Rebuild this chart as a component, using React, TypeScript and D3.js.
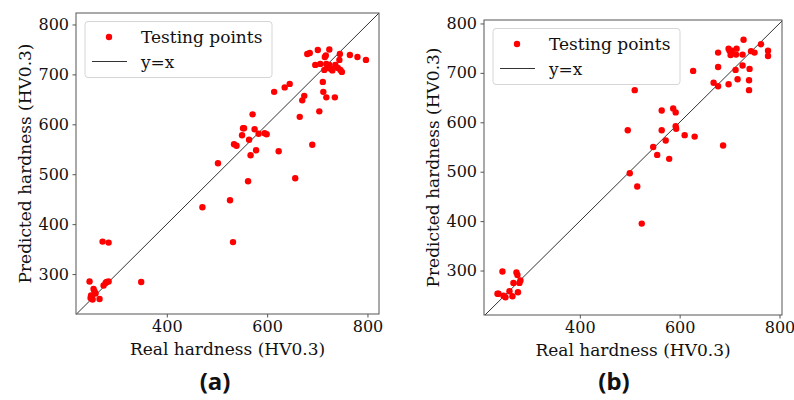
import { useRef, useEffect } from 'react'
import * as d3 from 'd3'

// (a) real vs predicted hardness, testing points
const realA = [
  680, 685, 701, 724, 717, 715, 745, 744, 765, 780, 797, 696, 706, 718, 724, 714, 721, 730, 736, 741,
  746, 749, 727, 711, 712, 718, 735, 704, 674, 670, 665, 690, 656, 614, 635, 645, 571, 552, 554, 575,
  550, 583, 595, 599, 564, 534, 539, 578, 567, 623, 502, 562, 471, 526, 532, 272, 284, 349, 246, 274,
  278, 280, 284, 254, 256, 258, 249, 251, 252, 248, 266,
]
const predA = [
  741, 743, 749, 750, 738, 735, 741, 729, 739, 735, 729, 719, 721, 721, 719, 709, 713, 708, 719, 713,
  709, 705, 711, 685, 665, 654, 654, 626, 657, 648, 615, 559, 492, 665, 674, 681, 620, 592, 592, 590,
  578, 581, 582, 580, 569, 560, 557, 548, 538, 546, 522, 486, 434, 448, 364, 365, 363, 284, 285, 277,
  282, 284, 285, 270, 265, 261, 257, 251, 249, 252, 250,
]

// (b)
const realB = [
  728, 763, 777, 777, 743, 750, 714, 698, 700, 705, 702, 713, 726, 677, 677, 726, 712, 740, 668, 677,
  698, 716, 739, 739, 627, 510, 564, 587, 592, 564, 592, 593, 496, 610, 630, 572, 547, 555, 579, 687,
  500, 515, 524, 245, 273, 275, 281, 279, 267, 259, 276, 265, 251, 247, 237, 235,
]
const predB = [
  767, 758, 745, 734, 744, 741, 749, 749, 745, 745, 736, 737, 737, 741, 712, 715, 706, 708, 680, 673,
  677, 687, 685, 665, 704, 665, 624, 628, 620, 584, 592, 587, 584, 574, 571, 563, 550, 534, 526, 553,
  497, 470, 395, 298, 296, 291, 280, 275, 275, 258, 256, 248, 246, 249, 253, 253,
]

const xTicks = [400, 600, 800]
const yTicks = [300, 400, 500, 600, 700, 800]

type Panel = {
  real: number[]
  pred: number[]
  left: number
  right: number
  top: number
  bottom: number
  xDomain: [number, number]
  yDomain: [number, number]
  caption: string
  captionX: number
}

const panels: Panel[] = [
  { real: realA, pred: predA, left: 76, right: 379, top: 13, bottom: 314, xDomain: [219, 823], yDomain: [220, 823], caption: '(a)', captionX: 215 },
  { real: realB, pred: predB, left: 484, right: 782, top: 20, bottom: 315, xDomain: [208, 805], yDomain: [210, 807], caption: '(b)', captionX: 614 },
]

const serif = '"DejaVu Serif", serif'

export default function App() {
  const svgRef = useRef<SVGSVGElement>(null)

  useEffect(() => {
    if (!svgRef.current) return
    const svg = d3.select(svgRef.current)
    svg.selectAll('*').remove()

    for (const p of panels) {
      const x = d3.scaleLinear().domain(p.xDomain).range([p.left, p.right])
      const y = d3.scaleLinear().domain(p.yDomain).range([p.bottom, p.top])
      const g = svg.append('g')

      // y = x diagonal, clipped to the frame
      const lo = Math.max(p.xDomain[0], p.yDomain[0])
      const hi = Math.min(p.xDomain[1], p.yDomain[1])
      g.append('line')
        .attr('x1', x(lo)).attr('y1', y(lo))
        .attr('x2', x(hi)).attr('y2', y(hi))
        .attr('stroke', '#333').attr('stroke-width', 1)

      // points
      g.selectAll('.pt')
        .data(p.real.map((r, i) => [r, p.pred[i]]))
        .join('circle')
        .attr('cx', (d) => x(d[0]))
        .attr('cy', (d) => y(d[1]))
        .attr('r', 3.2)
        .attr('fill', '#ff0000')

      // frame
      g.append('rect')
        .attr('x', p.left).attr('y', p.top)
        .attr('width', p.right - p.left).attr('height', p.bottom - p.top)
        .attr('fill', 'none').attr('stroke', '#555').attr('stroke-width', 1)

      // axes
      const ax = g.append('g')
        .attr('transform', `translate(0,${p.bottom})`)
        .call(d3.axisBottom(x).tickValues(xTicks).tickSize(3.5).tickPadding(3.5))
      const ay = g.append('g')
        .attr('transform', `translate(${p.left},0)`)
        .call(d3.axisLeft(y).tickValues(yTicks).tickSize(3.5).tickPadding(3.5))
      for (const a of [ax, ay]) {
        a.select('.domain').remove()
        a.selectAll('.tick line').attr('stroke', '#555')
        a.selectAll('text')
          .attr('fill', '#111')
          .style('font-family', serif)
          .style('font-size', '16px')
      }

      // axis titles
      const cx = (p.left + p.right) / 2
      g.append('text')
        .attr('x', cx).attr('y', p.bottom + 41)
        .attr('text-anchor', 'middle')
        .attr('font-family', serif).attr('font-size', 17).attr('fill', '#111')
        .text('Real hardness (HV0.3)')
      const cy = (p.top + p.bottom) / 2
      g.append('text')
        .attr('transform', `translate(${p.left - 45},${cy}) rotate(-90)`)
        .attr('text-anchor', 'middle')
        .attr('font-family', serif).attr('font-size', 17).attr('fill', '#111')
        .text('Predicted hardness (HV0.3)')

      // legend
      const lx = p.left + 9
      const ly = p.top + 8.5
      const leg = g.append('g').attr('transform', `translate(${lx},${ly})`)
      leg.append('rect')
        .attr('width', 187).attr('height', 56).attr('rx', 3)
        .attr('fill', 'white').attr('fill-opacity', 0.8)
        .attr('stroke', '#d5d5d5')
      leg.append('circle').attr('cx', 24).attr('cy', 15.5).attr('r', 3.2).attr('fill', '#ff0000')
      leg.append('text')
        .attr('x', 56).attr('y', 21.5)
        .attr('font-family', serif).attr('font-size', 17).attr('fill', '#111')
        .text('Testing points')
      leg.append('line')
        .attr('x1', 7).attr('x2', 42).attr('y1', 40).attr('y2', 40)
        .attr('stroke', '#333').attr('stroke-width', 1)
      leg.append('text')
        .attr('x', 56).attr('y', 46.5)
        .attr('font-family', serif).attr('font-size', 17).attr('fill', '#111')
        .text('y=x')

      // caption
      svg.append('text')
        .attr('x', p.captionX).attr('y', 390)
        .attr('text-anchor', 'middle')
        .attr('font-family', '"Noto Sans", sans-serif').attr('font-weight', 'bold')
        .attr('font-size', 24).attr('fill', '#111')
        .text(p.caption)
    }
  }, [])

  return (
    <svg
      ref={svgRef}
      width={794}
      height={400}
      style={{ position: 'absolute', left: 0, top: 0, background: 'white' }}
    />
  )
}
